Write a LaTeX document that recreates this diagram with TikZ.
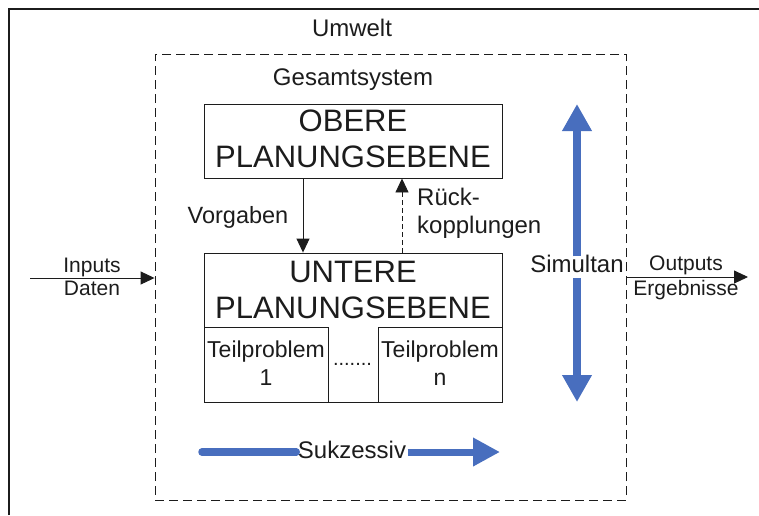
\documentclass[tikz,border=0pt]{standalone}
\usepackage{fontspec}
\setmainfont{Liberation Sans}
\usetikzlibrary{arrows.meta,calc}
\definecolor{ink}{RGB}{28,28,28}
\definecolor{flow}{RGB}{72,110,190}
\newcommand\fsz[1]{\fontsize{#1}{#1}\selectfont}
\begin{document}
\begin{tikzpicture}[x=1pt,y=-1pt,
  lbl/.style={inner sep=0pt, text=ink, anchor=base},
  box/.style={draw=ink, line width=0.9pt, inner sep=0pt},
  arr/.style={draw=ink, line width=0.9pt, -{Triangle[length=14pt,width=13pt]}},
  flowarr/.style={draw=flow, line width=7.5pt, -{Triangle[length=27pt,width=28pt]}},
  title/.style={lbl, font=\fsz{31}},
  big/.style={lbl, font=\fsz{24}},
  small/.style={lbl, font=\fsz{21}}]
\useasboundingbox (0,0) rectangle (759,515);

% surrounding frame (environment)
\draw[ink, line width=2.2pt] (9,515) -- (9,9) -- (759,9);
\node[big] (umwelt) at (352,36) {Umwelt};

% whole system, dashed
\node[draw=ink, line width=0.9pt, dash pattern=on 9pt off 5pt, inner sep=0pt,
      minimum width=471pt, minimum height=446pt] (gesamt) at (390.5,277) {};
\node[big] (gesamtlbl) at (353,85) {Gesamtsystem};

% upper planning level
\node[box, minimum width=298pt, minimum height=74pt] (obere) at (353,141) {};
\node[title] (obereA) at (353,131) {OBERE};
\node[title] (obereB) at (353,167) {PLANUNGSEBENE};

% lower planning level with sub-problems
\node[box, minimum width=298pt, minimum height=149pt] (untere) at (353,327.5) {};
\node[title] (untereA) at (353,282) {UNTERE};
\node[title] (untereB) at (353,318) {PLANUNGSEBENE};
\node[box, minimum width=124pt, minimum height=75pt] (tp1) at (266,364.5) {};
\node[box, minimum width=124pt, minimum height=75pt] (tpn) at (440,364.5) {};
\node[lbl, font=\fsz{23}] (tp1a) at (266,357) {Teilproblem};
\node[lbl, font=\fsz{23}] (tp1b) at (266,385) {1};
\node[lbl, font=\fsz{23}] (tpna) at (440,357) {Teilproblem};
\node[lbl, font=\fsz{23}] (tpnb) at (440,385) {n};
\node[lbl, font=\fsz{20}] (dots) at (352.5,365) {.......};

% directives and feedback
\coordinate (vx) at (303,0);
\coordinate (rx) at (402,0);
\draw[arr] (obere.south -| vx) -- (untere.north -| vx);
\draw[arr, dash pattern=on 5pt off 3pt] (untere.north -| rx) -- (obere.south -| rx);
\node[lbl, font=\fsz{23.5}] (vorgaben) at (238,223) {Vorgaben};
\node[big, anchor=base west] (rueck) at (417,205) {Rück-};
\node[big, anchor=base west] (kopp) at (417,233) {kopplungen};

% inputs and outputs
\coordinate (inStart) at (30,278);
\coordinate (outEnd) at (748,277);
\draw[arr] (inStart) -- (inStart -| gesamt.west);
\draw[arr] (gesamt.east |- outEnd) -- (outEnd);
\node[small] (inputs) at (92,272) {Inputs};
\node[small] (daten) at (92,295) {Daten};
\node[small] (outputs) at (686,270) {Outputs};
\node[small] (ergebnisse) at (686,295) {Ergebnisse};

% simultaneous planning
\coordinate (simTop) at (577,104);
\coordinate (simBot) at (577,402);
\node[big] (simultan) at (577,272) {Simultan};
\draw[flowarr] ([yshift=-2pt]simultan.north) -- (simTop);
\draw[flowarr] ([yshift=-6pt]simultan.south) -- (simBot);

% successive planning
\coordinate (sukL) at (202,452);
\coordinate (sukR) at (500,452);
\node[big, inner xsep=1.5pt] (suk) at (352,458) {Sukzessiv};
\draw[draw=flow, line width=7.5pt, line cap=round] (sukL) -- (suk.west |- sukL);
\draw[flowarr, line width=7pt, -{Triangle[length=27pt,width=27pt]}] (suk.east |- sukR) -- (sukR);
\end{tikzpicture}
\end{document}
